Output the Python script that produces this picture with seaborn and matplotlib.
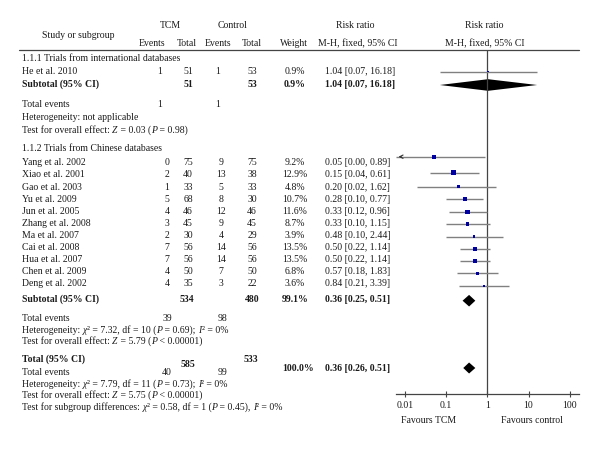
import numpy as np
import pandas as pd
import matplotlib
matplotlib.use('Agg')
import matplotlib.pyplot as plt
import seaborn as sns

# 1.1.1 international trials
intl_study = ['He et al. 2010']
intl_e_tcm = [1]
intl_n_tcm = [51]
intl_e_ctl = [1]
intl_n_ctl = [53]
intl_w = [0.9]
intl_rr = [1.04]
intl_lo = [0.07]
intl_hi = [16.18]

# 1.1.2 Chinese trials
cn_study = ['Yang et al. 2002', 'Xiao et al. 2001', 'Gao et al. 2003', 'Yu et al. 2009',
            'Jun et al. 2005', 'Zhang et al. 2008', 'Ma et al. 2007', 'Cai et al. 2008',
            'Hua et al. 2007', 'Chen et al. 2009', 'Deng et al. 2002']
cn_e_tcm = [0, 2, 1, 5, 4, 3, 2, 7, 7, 4, 4]
cn_n_tcm = [75, 40, 33, 68, 46, 45, 30, 56, 56, 50, 35]
cn_e_ctl = [9, 13, 5, 8, 12, 9, 4, 14, 14, 7, 3]
cn_n_ctl = [75, 38, 33, 30, 46, 45, 29, 56, 56, 50, 22]
cn_w = [9.2, 12.9, 4.8, 10.7, 11.6, 8.7, 3.9, 13.5, 13.5, 6.8, 3.6]
cn_rr = [0.05, 0.15, 0.20, 0.28, 0.33, 0.33, 0.48, 0.50, 0.50, 0.57, 0.84]
cn_lo = [0.00, 0.04, 0.02, 0.10, 0.12, 0.10, 0.10, 0.22, 0.22, 0.18, 0.21]
cn_hi = [0.89, 0.61, 1.62, 0.77, 0.96, 1.15, 2.44, 1.14, 1.14, 1.83, 3.39]

# pooled estimates (rr, lo, hi, weight)
sub_intl = [1.04, 0.07, 16.18, 0.9]
sub_cn = [0.36, 0.25, 0.51, 99.1]
overall = [0.36, 0.26, 0.51, 100.0]

# layout (pixel rows)
L = 22
y_intl = [71]
y_cn = [162.3 + 12.1 * i for i in range(len(cn_study))]
fy_intl = [71.7]
fy_cn = [156.7, 172.7, 186.7, 199.3, 211.7, 224, 236.7, 249, 261, 273.3, 285.7]

sns.set_theme(style='white')
plt.rcParams['font.family'] = ['Liberation Serif', 'DejaVu Serif']
FS = 7.0
TXT = '#1a1a1a'

fig = plt.figure(figsize=(6, 4.5), dpi=100)
tax = fig.add_axes([0, 0, 1, 1])
tax.set_xlim(0, 600)
tax.set_ylim(450, 0)
tax.axis('off')


def t(x, y, s, ha='left', bold=False):
    # y is the visual middle of the row; draw on a baseline just below it
    return tax.text(x, y + 3, s, ha=ha, va='baseline', fontsize=FS, color=TXT,
                    fontweight='bold' if bold else 'normal')


def rich(x, y, s):
    # parts between * are italic, chained one after the other
    parts = s.split('*')
    prev = t(x, y, parts[0])
    for i, p in enumerate(parts[1:], start=1):
        if not p:
            continue
        prev = tax.annotate(p, xy=(1, 0), xycoords=prev, va='bottom', ha='left',
                            fontsize=FS, color=TXT,
                            fontstyle='italic' if i % 2 else 'normal')


def ci_text(rr, lo, hi):
    return f'{rr:.2f} [{lo:.2f}, {hi:.2f}]'


# header
t(170, 25, 'TCM', 'center')
t(233, 25, 'Control', 'center')
t(355, 25, 'Risk ratio', 'center')
t(484, 25, 'Risk ratio', 'center')
t(78, 35, 'Study or subgroup', 'center')
for x, s in [(152, 'Events'), (187, 'Total'), (218, 'Events'), (252, 'Total'),
             (294, 'Weight'), (358, 'M-H, fixed, 95% CI'), (485, 'M-H, fixed, 95% CI')]:
    t(x, 43, s, 'center')
tax.plot([19, 579.3], [49.5, 49.5], color='#444444', lw=0.9)

# group 1
t(L, 58, '1.1.1 Trials from international databases')
for i, s in enumerate(intl_study):
    y = y_intl[i]
    t(L, y, s)
    t(160, y, str(intl_e_tcm[i]), 'center')
    t(188, y, str(intl_n_tcm[i]), 'center')
    t(218, y, str(intl_e_ctl[i]), 'center')
    t(252, y, str(intl_n_ctl[i]), 'center')
    t(295, y, f'{intl_w[i]:.1f}%', 'center')
    t(325, y, ci_text(intl_rr[i], intl_lo[i], intl_hi[i]))
t(L, 84, 'Subtotal (95% CI)', bold=True)
t(188, 84, str(sum(intl_n_tcm)), 'center', True)
t(252, 84, str(sum(intl_n_ctl)), 'center', True)
t(295, 84, f'{sub_intl[3]:.1f}%', 'center', True)
t(325, 84, ci_text(*sub_intl[:3]), bold=True)
t(L, 104, 'Total events')
t(160, 104, str(sum(intl_e_tcm)), 'center')
t(218, 104, str(sum(intl_e_ctl)), 'center')
t(L, 117, 'Heterogeneity: not applicable')
rich(L, 130, 'Test for overall effect: *Z* = 0.03 (*P* = 0.98)')

# group 2
t(L, 148, '1.1.2 Trials from Chinese databases')
for i, s in enumerate(cn_study):
    y = y_cn[i]
    t(L, y, s)
    t(167, y, str(cn_e_tcm[i]), 'center')
    t(188, y, str(cn_n_tcm[i]), 'center')
    t(221, y, str(cn_e_ctl[i]), 'center')
    t(252, y, str(cn_n_ctl[i]), 'center')
    t(295, y, f'{cn_w[i]:.1f}%', 'center')
    t(325, y, ci_text(cn_rr[i], cn_lo[i], cn_hi[i]))
t(L, 299, 'Subtotal (95% CI)', bold=True)
t(187, 299, str(sum(cn_n_tcm)), 'center', True)
t(252, 299, str(sum(cn_n_ctl)), 'center', True)
t(295, 299, f'{sub_cn[3]:.1f}%', 'center', True)
t(325, 299, ci_text(*sub_cn[:3]), bold=True)
t(L, 317.7, 'Total events')
t(167, 317.7, str(sum(cn_e_tcm)), 'center')
t(222, 317.7, str(sum(cn_e_ctl)), 'center')
rich(L, 330, 'Heterogeneity: *χ*\u00b2 = 7.32, df = 10 (*P* = 0.69); *I*\u00b2 = 0%')
rich(L, 341.5, 'Test for overall effect: *Z* = 5.79 (*P* < 0.00001)')

# overall
t(L, 359, 'Total (95% CI)', bold=True)
t(188, 364, str(sum(intl_n_tcm) + sum(cn_n_tcm)), 'center', True)
t(251, 359, str(sum(intl_n_ctl) + sum(cn_n_ctl)), 'center', True)
t(298, 368, f'{overall[3]:.1f}%', 'center', True)
t(325, 368, ci_text(*overall[:3]), bold=True)
t(L, 371.7, 'Total events')
t(167, 371.7, str(sum(intl_e_tcm) + sum(cn_e_tcm)), 'center')
t(222, 371.7, str(sum(intl_e_ctl) + sum(cn_e_ctl)), 'center')
rich(L, 383.7, 'Heterogeneity: *χ*\u00b2 = 7.79, df = 11 (*P* = 0.73); *I*\u00b2 = 0%')
rich(L, 395.3, 'Test for overall effect: *Z* = 5.75 (*P* < 0.00001)')
rich(L, 406.7, 'Test for subgroup differences: *χ*\u00b2 = 0.58, df = 1 (*P* = 0.45), *I*\u00b2 = 0%')
t(429, 420, 'Favours TCM', 'center')
t(532, 420, 'Favours control', 'center')

# forest panel, y in pixel rows
fax = fig.add_axes([395.7 / 600, 1 - 394 / 450, (579.3 - 395.7) / 600, (394 - 49.5) / 450])
fax.patch.set_alpha(0)
fax.set_xscale('log')
xmin, xmax = 10 ** -2.226, 10 ** 2.233
fax.set_xlim(xmin, xmax)
fax.set_ylim(394, 49.5)
fax.axvline(1, color='#444444', lw=0.9)

df = pd.DataFrame({
    'rr': intl_rr + cn_rr,
    'lo': intl_lo + cn_lo,
    'hi': intl_hi + cn_hi,
    'w': intl_w + cn_w,
    'y': fy_intl + fy_cn,
})
for _, r in df.iterrows():
    if r['lo'] < xmin:
        fax.hlines(r['y'], xmin * 1.02, r['hi'], color='#808080', lw=1.0)
        fax.annotate('', xy=(xmin, r['y']), xytext=(xmin * 1.6, r['y']),
                     arrowprops=dict(arrowstyle='->', color='#333333', lw=0.8,
                                     mutation_scale=6))
    else:
        fax.hlines(r['y'], r['lo'], r['hi'], color='#808080', lw=1.0)
k = 0.8
sns.scatterplot(data=df, x='rr', y='y', size='w', sizes=(k * df['w'].min(), k * df['w'].max()),
                marker='s', color='#0000a0', linewidth=0, legend=False, ax=fax, zorder=3)

for (rr, lo, hi, _), yc, h in [(sub_intl, 85, 5.8), (sub_cn, 300.7, 5.8), (overall, 368, 5.5)]:
    fax.fill([lo, rr, hi, rr], [yc, yc - h, yc, yc + h], color='black', lw=0)

sns.despine(ax=fax, left=True, top=True, right=True)
fax.spines['bottom'].set_color('#444444')
fax.spines['bottom'].set_linewidth(0.9)
fax.set_xticks([0.01, 0.1, 1, 10, 100])
fax.set_xticklabels(['0.01', '0.1', '1', '10', '100'])
fax.minorticks_off()
fax.set_yticks([])
fax.tick_params(axis='x', direction='inout', length=4, width=0.8, color='#444444',
                labelsize=FS, labelcolor=TXT, pad=3, bottom=True)
fax.set_xlabel('')
fax.set_ylabel('')

fig.savefig('out.png', dpi=100)
